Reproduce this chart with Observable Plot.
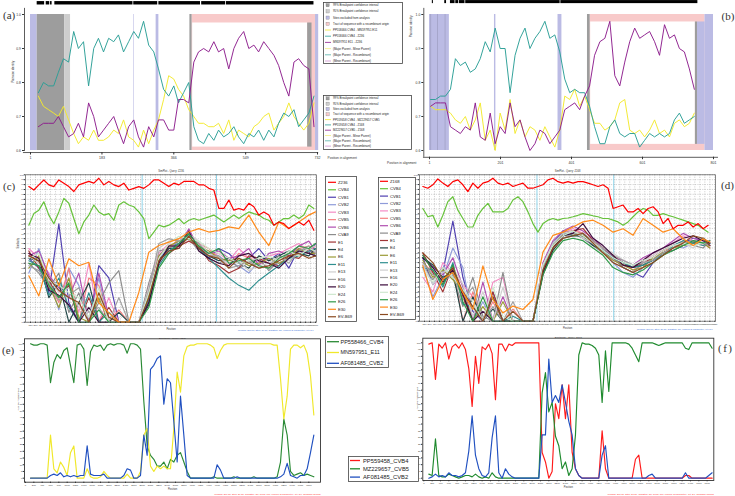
<!DOCTYPE html>
<html><head><meta charset="utf-8">
<script src="https://cdn.jsdelivr.net/npm/d3@7"></script>
<script src="https://cdn.jsdelivr.net/npm/@observablehq/plot@0.6"></script>
<style>
html,body{margin:0;padding:0;background:#fff;}
#root{position:relative;width:735px;height:496px;overflow:hidden;background:#fff;}
#root svg{position:absolute;max-width:none;}
</style></head><body><div id="root"></div>
<script>
// ================= DATA =================
// --- (a) RDP plot: PP558466 CVB4 / MN597951 E11 / Z236 ---
const aPos=[21,34,47,60,72,85,98,111,123,136,149,162,174,187,200,213,225,238,251,264,276,289,302,315,327,340,353,366,378,391,404,417,429,442,455,468,480,493,506,519,531,544,557,570,582,595,608,621,633,646,659,672,684,697,710,723];
const aYellow=[0.76,0.73,0.72,0.71,0.70,0.73,0.69,0.65,0.62,0.64,0.63,0.66,0.63,0.63,0.64,0.66,0.65,0.69,0.64,0.63,0.61,0.66,0.62,0.66,0.69,0.75,0.82,0.81,0.78,0.76,0.72,0.70,0.68,0.68,0.67,0.67,0.68,0.65,0.69,0.63,0.66,0.65,0.64,0.67,0.68,0.70,0.71,0.66,0.68,0.70,0.74,0.70,0.68,0.66,0.68,0.74];
const aTeal=[0.77,0.80,0.79,0.79,0.83,0.87,0.86,0.95,0.90,0.92,0.79,0.90,0.93,0.89,0.93,0.92,0.94,0.89,0.92,0.95,0.93,0.98,0.91,0.89,0.84,0.78,0.76,0.79,0.74,0.77,0.80,0.67,0.63,0.62,0.65,0.63,0.66,0.64,0.65,0.67,0.64,0.62,0.65,0.64,0.66,0.63,0.66,0.64,0.68,0.71,0.70,0.72,0.67,0.69,0.71,0.76];
const aPurple=[0.67,0.68,0.68,0.68,0.70,0.67,0.64,0.65,0.68,0.64,0.74,0.70,0.64,0.66,0.68,0.70,0.66,0.62,0.67,0.69,0.64,0.61,0.67,0.64,0.69,0.69,0.66,0.66,0.75,0.75,0.74,0.86,0.89,0.90,0.89,0.92,0.89,0.90,0.84,0.90,0.93,0.95,0.90,0.91,0.89,0.92,0.90,0.88,0.85,0.80,0.76,0.86,0.87,0.85,0.84,0.67];
const aRegions=[
 {x1:1,x2:18,y1:0.6,y2:1.0,kind:"excluded"},
 {x1:18,x2:88,y1:0.6,y2:1.0,kind:"ci99"},
 {x1:88,x2:103,y1:0.6,y2:1.0,kind:"ci95"},
 {x1:263.5,x2:265,y1:0.6,y2:1.0,kind:"excluded"},
 {x1:321,x2:328,y1:0.6,y2:1.0,kind:"excluded"},
 {x1:407,x2:413,y1:0.6,y2:1.0,kind:"ci99"},
 {x1:413,x2:727,y1:0.6,y2:1.0,kind:"tract"},
 {x1:414,x2:707,y1:0.61,y2:0.975,kind:"blank"},
 {x1:707,x2:718,y1:0.61,y2:0.975,kind:"ci99"},
 {x1:727,x2:735,y1:0.6,y2:1.0,kind:"excluded"}];
const aBar=[[18,37],[41,50],[52,56],[63,262],[264,325],[328,434],[437,498],[500,723]];
const aXTicks=[1,183,366,549,732];
// --- (b) RDP plot: PP559458 CVB4 / MZ229657 CVB5 / Z168 ---
const bPos=[4,18,32,46,60,74,88,102,116,130,144,158,172,186,200,214,228,242,256,270,284,298,312,326,340,354,368,382,396,410,424,438,452,466,481,495,509,523,537,551,565,579,593,607,621,635,649,663,677,691,705,719,733,747];
const bTeal=[0.75,0.75,0.76,0.76,0.78,0.87,0.85,0.86,0.83,0.84,0.87,0.92,0.89,0.96,0.90,0.90,0.77,0.88,0.93,0.96,0.90,0.93,0.95,0.98,0.93,0.94,0.89,0.81,0.77,0.78,0.77,0.77,0.73,0.67,0.62,0.62,0.67,0.69,0.65,0.64,0.65,0.65,0.61,0.63,0.65,0.64,0.65,0.64,0.65,0.69,0.71,0.68,0.69,0.70];
const bPurple=[0.73,0.74,0.74,0.74,0.67,0.66,0.65,0.67,0.66,0.74,0.64,0.63,0.71,0.62,0.67,0.65,0.74,0.67,0.69,0.64,0.60,0.62,0.66,0.65,0.62,0.64,0.66,0.72,0.73,0.74,0.72,0.76,0.79,0.88,0.92,0.93,0.98,0.82,0.79,0.86,0.92,0.96,0.93,0.94,0.95,0.92,0.88,0.97,0.93,0.94,0.90,0.89,0.84,0.78];
const bYellow=[0.73,0.72,0.72,0.72,0.71,0.69,0.68,0.70,0.66,0.69,0.74,0.63,0.66,0.60,0.71,0.66,0.75,0.65,0.69,0.64,0.67,0.66,0.63,0.67,0.64,0.61,0.66,0.76,0.75,0.78,0.73,0.76,0.72,0.68,0.68,0.66,0.67,0.69,0.74,0.75,0.66,0.65,0.66,0.64,0.66,0.69,0.65,0.66,0.64,0.68,0.69,0.67,0.68,0.71];
const bRegions=[
 {x1:1,x2:57,y1:0.6,y2:1.0,kind:"excluded"},
 {x1:5.5,x2:6.8,y1:0.6,y2:1.0,kind:"line"},
 {x1:24.5,x2:25.8,y1:0.6,y2:1.0,kind:"line"},
 {x1:45.5,x2:46.8,y1:0.6,y2:1.0,kind:"line"},
 {x1:184,x2:188,y1:0.6,y2:1.0,kind:"excluded"},
 {x1:363,x2:374,y1:0.6,y2:1.0,kind:"excluded"},
 {x1:446,x2:454,y1:0.6,y2:1.0,kind:"ci99"},
 {x1:454,x2:777,y1:0.6,y2:1.0,kind:"tract"},
 {x1:455,x2:750,y1:0.618,y2:0.978,kind:"blank"},
 {x1:750,x2:756,y1:0.618,y2:0.978,kind:"ci99"},
 {x1:756,x2:777,y1:0.618,y2:0.978,kind:"excluded"},
 {x1:777,x2:801,y1:0.6,y2:1.0,kind:"excluded"}];
const bBar=[[9,12],[44,49],[60,73],[75,83],[85,101],[103,369],[371,757]];
const bXTicks=[1,201,401,601,801];
const rdpYTicks=[0.6,0.7,0.8,0.9,1.0];
const regionFill={excluded:"#bbbbe4",ci99:"#9d9d9d",ci95:"#cecece",tract:"#f8caca",blank:"#ffffff",line:"#8e8eae"};
const rdpColors=["#f2e92c","#2a9e96","#8c1c8c"];
const legendKinds=["box","box","box","box","line","line","line","line","line","line"];
const legendColors=["#9d9d9d","#cecece","#bbbbe4","#f8caca","#f2e92c","#2a9e96","#8c1c8c","#f4ee80","#55b3aa","#cf92cf"];
const legendA=["99% Breakpoint confidence interval","95% Breakpoint confidence interval","Sites excluded from analysis","Tract of sequence with a recombinant origin","PP558466 CVB4 - MN597951 E11","PP558466 CVB4 - Z236","MN597951 E11 - Z236","(Major Parent - Minor Parent)","(Major Parent - Recombinant)","(Minor Parent - Recombinant)"];
const legendB=["99% Breakpoint confidence interval","95% Breakpoint confidence interval","Sites excluded from analysis","Tract of sequence with a recombinant origin","PP559458 CVB4 - MZ229657 CVB5","PP559458 CVB4 - Z168","MZ229657 CVB5 - Z168","(Major Parent - Minor Parent)","(Major Parent - Recombinant)","(Minor Parent - Recombinant)"];

// --- (c)/(d) SimPlot ---
const simFine=[100,250,400,550,700,850,1000,1150,1300,1450,1600,1750,1900,2050,2200,2350,2500,2650,2800,2950,3100,3250,3400,3550,3700,3850,4000,4150,4300,4450,4600,4750,4900,5050,5200,5350,5500,5650,5800,5950,6100,6250,6400,6550,6700,6850,7000,7150,7300,7450,7600,7750,7900,8050,8200,8350,8500,8650];
const simCoarse=[100,400,700,1000,1300,1600,1900,2200,2500,2800,3100,3400,3700,4000,4300,4600,4900,5200,5500,5800,6100,6400,6700,7000,7300,7600,7900,8200,8500,8700];
const simNamesC=["Z236","CVB4","CVB1","CVB2","CVB3","CVB5","CVB6","CVA9","E1","E4","E6","E11","E13","E16","E20","E24","E26","E30","EV-B69"];
const simNamesD=["Z168","CVB4","CVB1","CVB2","CVB3","CVB5","CVB6","CVA9","E1","E4","E6","E11","E13","E16","E20","E24","E26","E30","EV-B69"];
const simColors=["#ff0000","#66c23a","#4f3fb0","#8f9bd9","#f48cc4","#f58080","#b04fb0","#8c8c8c","#a03535","#1f4545","#9a9a35","#2f8f8f","#cfcfcf","#a0a0a0","#3a0a3a","#cfe8cf","#2f9a48","#ff8a1a","#8b4a1f"];
const cRed=[95.2,93.8,95.9,97.9,95.9,95.2,97.9,96.6,95.2,93.2,95.9,96.6,97.3,96.6,98.6,95.9,97.3,95.9,95.2,96.6,93.8,94.5,95.2,94.5,95.9,97.9,97.9,96.6,95.2,96.6,95.9,97.3,97.3,97.3,95.9,95.9,94.5,93.8,86.3,86.3,89.7,85.6,86.3,85.6,88.4,87.0,83.6,84.9,83.6,79.5,80.8,80.1,78.1,79.5,80.8,79.5,81.5,77.4];
const cGreen=[79.5,84.2,85.6,89.0,83.6,80.1,84.9,90.4,88.4,82.2,76.0,80.8,83.6,87.7,84.9,83.6,84.2,81.5,87.7,89.0,87.7,87.0,84.9,82.2,74.0,76.7,79.5,78.8,79.5,80.8,82.2,80.1,81.5,82.2,81.5,82.2,82.9,83.6,82.2,80.8,82.2,83.6,82.2,83.6,84.9,84.2,83.6,82.2,81.5,79.5,80.8,82.2,82.2,83.6,82.2,83.6,87.7,86.3];
const cOrange=[58.9,50.7,65.8,54.8,65.8,63.0,64.4,47.9,43.8,40,40,52.1,68.5,71.2,72.6,74.0,76.7,78.1,76.7,77.4,78.8,78.1,83.6,76.7,71.2,80.8,78.1,80.8,83.6,84.9];
const c_CVB1=[66,62,52,80,48,40,40,63,58,40,40,40,52,67,71,72,76,70,66,70,68,64,66,70,65,68,62,70,68,72];
const c_CVB2=[60,70,58,45,62,55,40,58,40,40,40,40,50,66,70,73,75,72,68,67,64,63,60,65,62,64,66,68,70,69];
const c_CVB3=[70,66,60,52,58,44,64,40,50,40,40,40,55,68,72,70,77,71,67,68,65,70,66,64,67,68,70,72,69,71];
const c_CVB5=[68,64,56,48,62,40,58,55,40,45,40,40,48,64,70,74,75,72,70,66,63,68,66,65,62,66,68,70,71,70];
const c_CVB6=[67,69,59,54,50,60,40,60,42,40,40,40,52,65,69,71,78,70,68,69,66,67,70,63,68,69,67,71,73,69];
const c_CVA9=[64,60,54,60,44,52,40,48,56,61,40,40,56,69,70,72,74,69,66,64,66,62,64,66,61,65,68,69,70,67];
const c_E1=[69,62,57,50,55,40,50,40,46,40,40,40,50,66,68,71,73,71,65,63,60,62,67,66,64,63,67,66,70,68];
const c_E4=[66,65,50,56,40,48,56,40,40,44,40,40,47,65,70,70,76,70,67,65,66,64,62,67,65,67,69,68,67,70];
const c_E6=[62,67,55,46,58,42,40,50,40,40,40,40,51,67,71,73,74,71,69,66,65,66,63,64,66,64,66,70,68,68];
const c_E11=[65,63,51,58,46,40,52,40,44,40,40,40,49,63,69,72,75,70,66,62,58,55,53,57,60,63,66,67,69,70];
const c_E13=[67,64,58,52,54,46,42,52,40,40,40,40,54,70,73,74,76,73,68,66,64,65,61,63,64,66,65,68,70,71];
const c_E16=[63,61,56,49,51,54,44,46,40,50,40,40,53,72,74,73,75,72,67,67,62,63,65,62,63,67,64,69,71,68];
const c_E20=[68,66,53,51,47,40,46,40,40,40,40,40,48,64,71,71,77,69,66,64,63,67,68,65,64,62,66,69,68,67];
const c_E24=[66,68,57,55,52,50,42,54,40,40,40,40,52,66,72,75,74,73,70,68,66,64,65,66,67,65,69,67,70,69];
const c_E26=[64,63,55,50,56,40,40,45,40,40,40,40,46,62,68,72,76,71,68,70,64,65,66,63,62,66,68,71,70,72];
const c_EVB69=[67,65,58,53,50,48,40,52,42,40,40,40,50,65,69,70,75,70,67,66,62,66,64,62,63,65,67,68,66,67];
const cBreaks=[3500,5730];
const dRed=[95.2,94.5,95.9,98.3,96.6,95.2,97.2,97.9,95.9,93.1,96.6,94.5,96.6,97.2,98.6,96.6,95.9,96.6,95.2,95.9,96.6,94.5,94.5,95.2,95.9,97.9,98.6,97.2,96.6,97.2,96.6,97.2,97.2,96.6,95.9,95.2,95.9,94.5,86.2,86.9,87.6,84.8,84.8,86.2,84.1,86.2,86.9,84.8,80.0,82.1,77.9,79.3,79.3,80.7,78.6,80.0,77.9,79.3];
const dGreen=[86.2,82.8,83.4,78.6,83.4,89.0,91.0,85.5,82.1,78.6,78.6,83.4,86.2,88.3,84.8,84.8,84.8,86.2,89.7,91.0,89.0,84.8,80.0,76.5,80.0,81.4,82.1,81.4,82.1,82.3,82.8,83.4,84.1,83.7,83.2,82.8,82.1,82.1,81.4,80.7,79.3,80.7,82.8,84.8,86.2,85.5,83.4,83.4,84.1,83.4,82.8,82.1,81.4,80.7,80.0,79.3,77.9,76.5];
const dOrange=[62.7,48.9,57.2,60.0,51.7,44.8,62.7,48.9,43.4,46.2,44.8,48.9,68.3,75.2,76.5,78.6,80.7,81.4,79.3,76.5,77.9,75.2,82.1,79.3,76.5,77.9,73.8,71.0,73.8,72.4];
const d_CVB1=[66,55,60,81,58,44,40,52,40,40,40,40,62,72,77,76,75,72,70,66,62,60,58,64,68,70,72,74,73,71];
const d_CVB2=[62,50,58,70,62,40,48,40,40,40,40,40,60,71,75,77,74,71,68,64,60,58,62,66,69,71,70,72,74,72];
const d_CVB3=[58,52,64,60,55,50,40,56,58,40,40,40,63,72,76,78,76,73,69,65,63,62,65,67,70,72,75,73,71,73];
const d_CVB5=[64,60,55,62,40,52,40,48,40,45,40,40,61,70,76,77,76,72,70,67,64,61,63,65,69,70,73,72,72,70];
const d_CVB6=[67,62,59,66,54,40,56,40,50,40,40,40,64,73,77,79,77,74,70,66,65,63,66,68,70,73,76,74,73,71];
const d_CVA9=[63,57,62,58,46,58,42,40,60,40,40,40,62,71,75,76,74,71,68,66,62,60,64,66,68,70,72,71,70,73];
const d_E1=[68,60,52,63,50,40,40,52,40,40,40,40,60,70,76,77,78,73,70,67,63,62,64,66,69,71,72,73,72,71];
const d_E4=[66,63,58,60,40,50,40,45,40,40,40,40,59,69,74,75,75,71,69,66,64,62,63,65,68,69,71,72,74,72];
const d_E6=[65,58,61,57,52,40,46,40,48,40,40,40,61,71,75,76,75,72,68,65,63,61,62,66,68,70,71,72,72,70];
const d_E11=[62,61,54,64,47,46,40,50,40,42,40,40,62,72,76,75,76,72,69,66,64,62,63,65,67,71,73,72,71,72];
const d_E13=[63,55,60,62,55,42,52,40,54,40,40,40,63,72,76,77,74,72,70,68,65,63,64,67,70,71,72,70,73,72];
const d_E16=[64,59,57,59,49,54,40,46,40,48,40,40,62,70,74,76,76,73,70,67,65,63,64,65,68,70,72,73,72,71];
const d_E20=[66,62,56,61,51,40,44,40,40,40,40,40,60,70,75,76,80,74,71,67,63,62,65,68,70,72,74,75,73,72];
const d_E24=[61,56,62,58,53,48,40,54,42,40,40,40,63,71,75,77,75,72,69,66,64,63,65,66,69,71,72,71,72,73];
const d_E26=[67,61,55,63,48,40,50,40,40,40,40,40,59,68,73,74,73,70,67,62,60,59,61,64,67,69,71,73,72,73];
const d_EVB69=[68,64,57,62,52,46,40,50,40,44,40,40,61,70,74,75,76,72,68,64,62,60,62,64,67,70,72,75,74,71];
const dBreaks=[3520,5820];

// --- (e)/(f) BootScan ---
const bootPos=[120,200,280,360,440,520,600,680,760,840,920,1000,1080,1160,1240,1320,1400,1480,1560,1640,1720,1800,1880,1960,2040,2120,2200,2280,2360,2440,2520,2600,2680,2760,2840,2920,3000,3080,3160,3240,3320,3400,3480,3560,3640,3720,3800,3880,3960,4040,4120,4200,4280,4360,4440,4520,4600,4680,4760,4840,4920,5000,5080,5160,5240,5320,5400,5480,5560,5640,5720,5800,5880,5960,6040,6120,6200,6280,6360,6440,6520,6600,6680,6760,6840,6920];
const eNames=["PP558466_CVB4","MN597951_E11","AF081485_CVB2"];
const eColors=["#2a8a35","#f0e82a","#2050c0"];
const eGreen=[100,99,99,100,100,99,71,86,92,89,95,97,84,71,99,100,96,69,94,99,98,99,95,99,100,99,100,100,99,93,100,100,99,96,57,24,17,14,9,9,12,7,14,12,17,19,12,5,0,0,0,0,0,0,0,1,0,0,0,0,0,1,0,0,0,0,0,1,0,0,0,0,0,0,1,12,44,32,5,2,3,4,2,3,2,1];
const eYellow=[0,0,0,0,0,0,32,7,4,12,8,2,19,24,0,0,0,7,1,0,0,1,5,2,0,0,0,0,0,3,0,0,0,5,32,37,9,5,9,7,9,7,7,37,79,64,91,98,99,99,100,100,100,100,99,97,89,95,99,100,100,100,100,100,100,100,100,100,100,100,100,100,100,99,99,74,44,61,96,99,99,97,99,93,76,47];
const eBlue=[0,0,0,0,0,0,2,3,2,4,1,2,1,2,1,2,2,24,3,2,2,2,3,0,0,0,0,0,2,7,6,0,0,2,32,17,81,84,89,91,55,74,71,42,12,61,32,2,0,0,0,0,0,0,0,0,10,6,0,0,0,0,1,0,0,0,0,0,0,0,0,0,0,0,0,1,3,11,2,1,0,2,2,7,19,32];
const fNames=["PP559458_CVB4","MZ229657_CVB5","AF081485_CVB2"];
const fColors=["#ff1a1a","#1f8a2e","#2050c0"];
const fRed=[99,100,73,99,96,100,88,97,99,96,100,95,81,53,90,70,97,95,99,92,58,99,99,94,99,98,100,100,100,100,100,100,100,100,19,12,0,5,55,44,69,44,69,19,7,2,0,0,0,0,0,0,35,7,0,0,0,0,0,0,0,0,14,17,0,0,0,0,0,0,0,0,0,0,0,0,0,2,2,0,0,0,0,0,0,0];
const fGreen=[3,2,29,2,1,1,3,2,1,0,1,2,2,1,3,1,0,1,0,4,1,0,0,0,0,0,0,0,0,0,0,0,0,0,63,78,49,56,31,24,7,12,2,7,32,91,100,99,99,98,96,91,56,94,64,100,100,100,100,100,99,96,91,86,100,100,100,100,99,98,99,100,100,100,100,100,100,96,95,100,100,100,100,100,100,96];
const fBlue=[0,1,3,1,2,1,4,2,2,1,2,4,20,46,17,7,2,1,4,30,46,4,0,7,3,1,0,0,0,0,0,0,0,0,32,32,88,56,61,56,69,56,42,32,7,2,0,0,0,0,0,0,17,24,0,0,0,0,0,0,0,0,0,0,0,0,2,3,0,0,0,0,0,0,0,0,0,4,0,0,0,0,0,0,2,4];
const bootNote="Window: 200 bp, Step: 20 bp, GapStrip: On, Reps: 100, Kimura (2-parameter), T/t: 2.0, Neighbor-Joining";
const simNote="Window: 200 bp, Step: 20 bp, GapStrip: On, Kimura (2-parameter), T/t: 2.0";

// ================= DRAWING =================
const FONT="Liberation Sans, Arial, sans-serif";
const root=document.getElementById("root");
function place(node,left,top){node.style.position="absolute";node.style.left=left+"px";node.style.top=top+"px";node.style.maxWidth="none";root.appendChild(node);return node;}
const baseStyle={background:"transparent",fontFamily:FONT,overflow:"visible",color:"#333"};
const txt=(s,o)=>Plot.text([s],{text:d=>d,fill:"#333",...o});

function rdpPanel(o){
  const marks=[];
  o.regions.forEach(r=>marks.push(Plot.rect([r],{x1:"x1",x2:"x2",y1:"y1",y2:"y2",fill:regionFill[r.kind]})));
  marks.push(Plot.rect(o.bar,{x1:d=>d[0],x2:d=>d[1],y1:o.barY[0],y2:o.barY[1],fill:"#000"}));
  o.series.forEach((s,i)=>marks.push(Plot.line(s,{x:(d,j)=>o.pos[j],y:d=>d,stroke:rdpColors[i],strokeWidth:0.95})));
  marks.push(Plot.ruleX([o.xDomain[0]],{dx:o.axisDx,y1:o.yLine[0],y2:o.yLine[1],stroke:"#333",strokeWidth:0.8}));
  marks.push(Plot.ruleY([o.xAxisV],{x1:o.xLine[0],x2:o.xLine[1],stroke:"#333",strokeWidth:0.8}));
  marks.push(Plot.axisX({ticks:o.xTicks,tickSize:2.5,tickPadding:1.5,dy:o.axisDy,fontSize:3.6,label:null,stroke:"#333",tickFormat:d=>String(d)}));
  marks.push(Plot.axisY({ticks:rdpYTicks,tickSize:2,tickPadding:1.5,dx:o.axisDx,fontSize:3.4,label:null,stroke:"#333",tickFormat:d=>d.toFixed(1)}));
  marks.push(...o.texts);
  return Plot.plot({width:o.width,height:o.height,marginLeft:o.ml,marginRight:o.mr,marginTop:o.mt,marginBottom:o.mb,
    x:{domain:o.xDomain,label:null},y:{domain:[0.6,1.0],label:null},style:baseStyle,marks});
}

// (a)
place(rdpPanel({width:352,height:168,ml:30,mr:35,mt:14,mb:18,xDomain:[1,732],pos:aPos,
  regions:aRegions,bar:aBar,barY:[1.028,1.038],series:[aYellow,aTeal,aPurple],
  axisDx:-6,axisDy:2,yLine:[0.597,1.018],xAxisV:0.594,xLine:[-17,735],xTicks:aXTicks,
  texts:[txt("Pairwise identity",{frameAnchor:"left",dx:-17,rotate:-90,fontSize:3}),
         txt("Position in alignment",{frameAnchor:"bottom-right",dx:10,dy:8,textAnchor:"start",fontSize:3.2})]}),0,0);
// (b)
place(rdpPanel({width:340,height:168,ml:34,mr:22,mt:14,mb:18,xDomain:[1,801],pos:bPos,
  regions:bRegions,bar:bBar,barY:[1.032,1.041],series:[bYellow,bTeal,bPurple],
  axisDx:-5.7,axisDy:6.7,yLine:[0.58,1.018],xAxisV:0.58,xLine:[-16,815],xTicks:bXTicks,
  texts:[txt("Pairwise identity",{frameAnchor:"top-left",dx:-20,dy:1,rotate:-90,textAnchor:"end",fontSize:3}),
         txt("Position in alignment",{frameAnchor:"bottom-left",dx:-13,dy:13,textAnchor:"end",fontSize:3.2})]}),395,0);

function simPanel(o){
  const marks=[
    Plot.gridX({ticks:o.xTicks,stroke:"#777",strokeOpacity:0.55,strokeDasharray:"1.2,1.2",strokeWidth:0.6}),
    Plot.gridY({ticks:d3.range(40,101,2),stroke:"#777",strokeOpacity:0.55,strokeDasharray:"1.2,1.2",strokeWidth:0.6}),
    Plot.ruleX(o.breaks,{stroke:"#86d0e8",strokeWidth:0.9})
  ];
  // clusters: legend entries 2..16 and 18 (EV-B69)
  o.clusters.forEach((vals,i)=>marks.push(Plot.line(vals,{x:(d,j)=>simCoarse[j],y:d=>d,stroke:simColors[o.clusterColor[i]],strokeWidth:1.15})));
  marks.push(Plot.line(o.orange,{x:(d,j)=>simCoarse[j],y:d=>d,stroke:simColors[17],strokeWidth:1.2}));
  marks.push(Plot.line(o.green,{x:(d,j)=>simFine[j],y:d=>d,stroke:simColors[1],strokeWidth:1.2}));
  marks.push(Plot.line(o.red,{x:(d,j)=>simFine[j],y:d=>d,stroke:simColors[0],strokeWidth:1.2}));
  marks.push(Plot.frame({stroke:"#555",strokeWidth:0.7}));
  marks.push(Plot.axisX({ticks:o.xTicks,tickSize:1.2,tickPadding:0.6,fontSize:2.3,label:null,tickFormat:d=>String(d)}));
  marks.push(Plot.axisY({ticks:d3.range(40,101,2),tickSize:1.2,tickPadding:0.6,fontSize:2.3,label:null}));
  marks.push(txt(o.title,{frameAnchor:"top",dy:-5,fontSize:2.6}));
  marks.push(txt("Position",{frameAnchor:"bottom",dy:7.5,fontSize:2.6}));
  marks.push(txt("Similarity",{frameAnchor:"left",dx:-7,rotate:-90,fontSize:2.6}));
  marks.push(txt(simNote,{frameAnchor:"bottom-right",dx:-3,dy:9,textAnchor:"end",fontSize:2.3,fill:"#3a6fd8"}));
  return Plot.plot({width:o.width,height:o.height,marginLeft:o.ml,marginRight:o.mr,marginTop:o.mt,marginBottom:o.mb,
    x:{domain:o.xDomain,label:null},y:{domain:[40,100],label:null},style:baseStyle,marks});
}
const clusterColor=[2,3,4,5,6,7,8,9,10,11,12,13,14,15,16,18];
place(simPanel({width:322,height:172,ml:25,mr:6,mt:9.3,mb:15.3,xDomain:[0,8730],xTicks:d3.range(150,8731,150),
  breaks:cBreaks,red:cRed,green:cGreen,orange:cOrange,title:"SimPlot - Query: Z236",clusterColor,
  clusters:[c_CVB1,c_CVB2,c_CVB3,c_CVB5,c_CVB6,c_CVA9,c_E1,c_E4,c_E6,c_E11,c_E13,c_E16,c_E20,c_E24,c_E26,c_EVB69]}),0,165);
place(simPanel({width:335,height:172,ml:19,mr:20,mt:9.3,mb:16.3,xDomain:[0,8870],xTicks:d3.range(150,8871,150),
  breaks:dBreaks,red:dRed,green:dGreen,orange:dOrange,title:"SimPlot - Query: Z168",clusterColor,
  clusters:[d_CVB1,d_CVB2,d_CVB3,d_CVB5,d_CVB6,d_CVA9,d_E1,d_E4,d_E6,d_E11,d_E13,d_E16,d_E20,d_E24,d_E26,d_EVB69]}),400,165);

function bootPanel(o){
  const marks=[Plot.frame({stroke:"#333",strokeWidth:0.9})];
  o.series.forEach((s,i)=>marks.push(Plot.line(s,{x:(d,j)=>bootPos[j],y:d=>d,stroke:o.colors[i],strokeWidth:1.15})));
  marks.push(Plot.axisX({ticks:o.xTicks,tickSize:1.3,tickPadding:0.8,fontSize:2.4,label:null,tickFormat:d=>String(d)}));
  marks.push(Plot.axisY({ticks:d3.range(0,101,5),tickSize:1.3,tickPadding:0.8,fontSize:2.4,label:null}));
  marks.push(txt(o.title,{frameAnchor:"top",dy:-1.8,fontSize:2.5}));
  marks.push(txt("Position",{frameAnchor:"bottom",dy:7.3,fontSize:2.6}));
  marks.push(txt("% of Permuted Trees",{frameAnchor:"left",dx:-6,rotate:-90,fontSize:2.4}));
  marks.push(txt(bootNote,{frameAnchor:"bottom-right",dy:o.noteDy,textAnchor:"end",fontSize:2.3,fill:"#ff3030"}));
  return Plot.plot({width:o.width,height:o.height,marginLeft:o.ml,marginRight:o.mr,marginTop:o.mt,marginBottom:o.mb,
    x:{domain:o.xDomain,label:null},y:{domain:o.yDomain,label:null},style:baseStyle,marks});
}
place(bootPanel({width:322,height:161,ml:24,mr:2,mt:3.3,mb:14.3,xDomain:[-24,7080],yDomain:[-3,103.7],
  xTicks:d3.range(0,7000,200),series:[eGreen,eYellow,eBlue],colors:eColors,title:"BootScan - Query: Z236",noteDy:12.6}),0,335);
place(bootPanel({width:335,height:161,ml:22.3,mr:21.7,mt:2.7,mb:16,xDomain:[-24,6960],yDomain:[-1.7,103.4],
  xTicks:d3.range(0,6961,200),series:[fRed,fGreen,fBlue],colors:fColors,title:"BootScan - Query: Z168",noteDy:14.3}),400,335);

// ---- legends ----
function legendBox(o){
  const svg=d3.create("svg").attr("width",o.w+2).attr("height",o.h+2).style("overflow","visible");
  svg.append("rect").attr("x",0.5).attr("y",0.5).attr("width",o.w).attr("height",o.h).attr("fill","#fff").attr("stroke","#444").attr("stroke-width",0.8);
  o.labels.forEach((lab,i)=>{
    const y=o.y0+i*o.dy, kind=o.kinds?o.kinds[i]:"line";
    if(kind==="box") svg.append("rect").attr("x",o.sx+1).attr("y",y-1.6).attr("width",3.2).attr("height",3.2).attr("fill",o.colors[i]).attr("stroke","#777").attr("stroke-width",0.3);
    else svg.append("line").attr("x1",o.sx).attr("x2",o.sx+o.sw).attr("y1",y).attr("y2",y).attr("stroke",o.colors[i]).attr("stroke-width",o.lw);
    svg.append("text").attr("x",o.tx).attr("y",y).attr("dy","0.35em").attr("font-size",o.fs).attr("font-family",FONT).attr("fill","#222").text(lab);
  });
  place(svg.node(),o.left,o.top);
}
legendBox({left:323,top:2,w:79,h:61,y0:3.2,dy:6.2,sx:2,sw:6,tx:10,fs:2.9,lw:0.8,labels:legendA,colors:legendColors,kinds:legendKinds});
legendBox({left:323,top:95,w:88,h:54,y0:3.4,dy:5.3,sx:2,sw:6,tx:10,fs:2.9,lw:0.8,labels:legendB,colors:legendColors,kinds:legendKinds});
legendBox({left:325,top:176,w:31,h:145,y0:6.3,dy:7.47,sx:3,sw:8,tx:13,fs:4.2,lw:1.2,labels:simNamesC,colors:simColors});
legendBox({left:378,top:176.5,w:37,h:142,y0:4.3,dy:7.4,sx:2,sw:8,tx:12,fs:4.2,lw:1.2,labels:simNamesD,colors:simColors});
legendBox({left:325,top:336,w:63,h:31,y0:5.7,dy:10.8,sx:2,sw:12,tx:15.5,fs:5.5,lw:1.3,labels:eNames,colors:eColors});
legendBox({left:348,top:455.5,w:70,h:25,y0:4.5,dy:8.3,sx:2,sw:10,tx:15,fs:5.8,lw:1.3,labels:fNames,colors:fColors});

// ---- panel labels ----
const over=d3.create("svg").attr("width",735).attr("height",496).style("pointer-events","none");
[["(a)",3,19],["(b)",721.5,19.5],["(c)",3,189.5],["(d)",721,189],["(e)",2,354],["(f)",718,352]].forEach(([t,x,y])=>
  over.append("text").attr("x",x).attr("y",y).attr("font-family","Liberation Serif, DejaVu Serif, serif").attr("font-size",11)
    .attr("fill","#333").attr("letter-spacing",t==="(f)"?1.5:0).text(t));
place(over.node(),0,0);
</script></body></html>
